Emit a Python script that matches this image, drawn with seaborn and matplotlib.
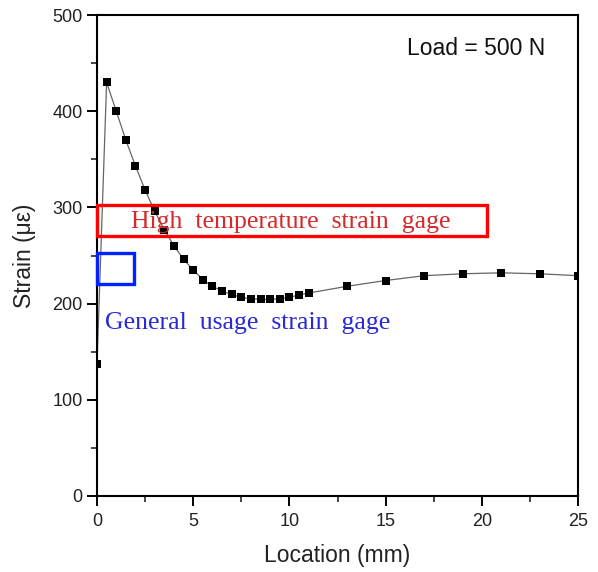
import matplotlib
matplotlib.use("Agg")
import matplotlib.pyplot as plt
import matplotlib.patches as patches
from matplotlib.ticker import MultipleLocator
import seaborn as sns
import pandas as pd

# ---- data ----
location_mm = [0, 0.5, 1.0, 1.5, 2.0, 2.5, 3.0, 3.5, 4.0, 4.5, 5.0, 5.5, 6.0, 6.5,
               7.0, 7.5, 8.0, 8.5, 9.0, 9.5, 10.0, 10.5, 11.0,
               13, 15, 17, 19, 21, 23, 25]
strain_ue = [137, 430, 400, 370, 343, 318, 296, 277, 260, 246, 235, 225, 218, 213,
             209.5, 206.5, 205, 204.5, 204.5, 205, 206.5, 209, 211,
             218, 224, 229, 231, 232, 231, 229]

high_temp_box = [0.0, 270.0, 20.25, 302.0]   # x0, y0, x1, y1
general_box = [0.0, 220.0, 1.92, 253.0]
high_temp_label = "High  temperature  strain  gage"
general_label = "General  usage  strain  gage"
load_label = "Load = 500 N"
x_ticks = [0, 5, 10, 15, 20, 25]
y_ticks = [0, 100, 200, 300, 400, 500]

df = pd.DataFrame({"Location": location_mm, "Strain": strain_ue})

sns.set_style("white")
plt.rcParams['font.family'] = ['Liberation Sans', 'DejaVu Sans']

fig = plt.figure(figsize=(5.98, 5.72), dpi=100)
ax = fig.add_axes([97/598, 1-496/572, (578-97)/598, (496-15)/572])

sns.lineplot(data=df, x="Location", y="Strain", ax=ax, color="#666666",
             linewidth=0.9, zorder=2)
sns.scatterplot(data=df, x="Location", y="Strain", ax=ax, marker="s", s=38,
                color="black", edgecolor="black", linewidth=0, zorder=3)

ax.set_xlim(0, 25)
ax.set_ylim(0, 500)
ax.set_xticks(x_ticks)
ax.set_yticks(y_ticks)
ax.xaxis.set_minor_locator(MultipleLocator(2.5))
ax.yaxis.set_minor_locator(MultipleLocator(50))
ax.tick_params(which="major", direction="out", length=7, width=1.4, labelsize=13,
               colors="black", labelcolor="#222222", top=False, right=False,
               bottom=True, left=True)
ax.tick_params(axis="x", which="major", pad=5)
ax.tick_params(which="minor", direction="out", length=4, width=1.2, top=False,
               right=False, bottom=True, left=True)
for sp in ax.spines.values():
    sp.set_visible(True)
    sp.set_color("black")
    sp.set_linewidth(1.5)

ax.set_xlabel("Location (mm)", fontsize=16.5, color="#222222", labelpad=10)
ax.set_ylabel("Strain (\u03bc\u03b5)", fontsize=16.5, color="#222222", labelpad=12)

# annotation boxes
ax.add_patch(patches.Rectangle((high_temp_box[0], high_temp_box[1]),
                               high_temp_box[2]-high_temp_box[0],
                               high_temp_box[3]-high_temp_box[1],
                               fill=False, edgecolor="#ff0000", linewidth=2.4,
                               zorder=4, clip_on=False))
ax.add_patch(patches.Rectangle((general_box[0], general_box[1]),
                               general_box[2]-general_box[0],
                               general_box[3]-general_box[1],
                               fill=False, edgecolor="#0022ff", linewidth=2.4,
                               zorder=4, clip_on=False))

ax.text(10.08, 285, high_temp_label, color="#d42a2a", fontsize=18.5,
        family=["Liberation Serif", "DejaVu Serif"], ha="center", va="center",
        zorder=5)
ax.text(0.42, 180, general_label, color="#2a2ad4", fontsize=18.5,
        family=["Liberation Serif", "DejaVu Serif"], ha="left", va="center",
        zorder=5)
ax.text(19.7, 465, load_label, color="#111111", fontsize=16.5,
        ha="center", va="center", zorder=5)

fig.savefig("out.png", dpi=100)
